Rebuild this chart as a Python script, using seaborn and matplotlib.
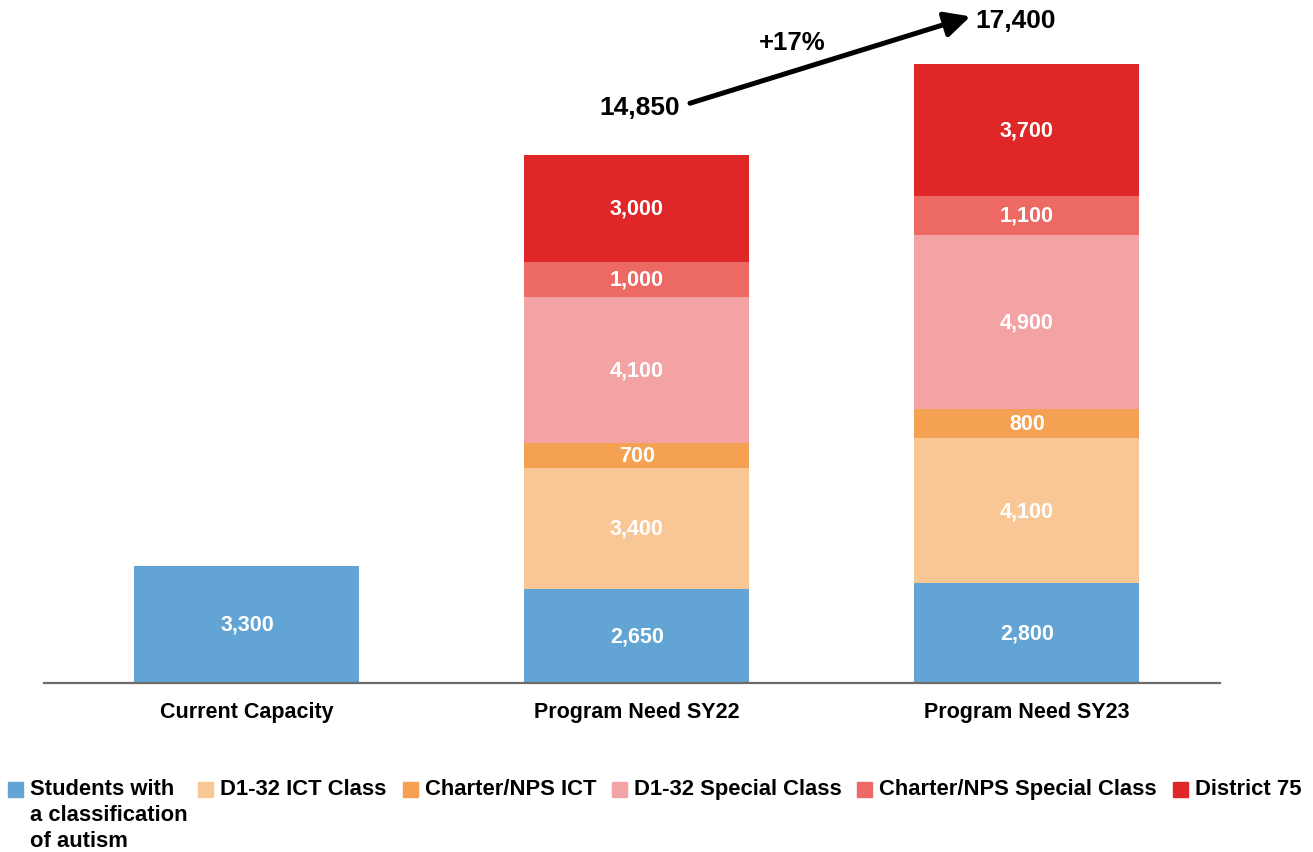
import matplotlib
matplotlib.use("Agg")
import numpy as np
import pandas as pd
import matplotlib.pyplot as plt
import seaborn as sns

# categories on the x axis
categories = ["Current Capacity", "Program Need SY22", "Program Need SY23"]

# stacked segments, bottom to top
segment_names = [
    "Students with\na classification\nof autism",
    "D1-32 ICT Class",
    "Charter/NPS ICT",
    "D1-32 Special Class",
    "Charter/NPS Special Class",
    "District 75",
]
autism = [3300, 2650, 2800]
d132_ict = [0, 3400, 4100]
charter_ict = [0, 700, 800]
d132_special = [0, 4100, 4900]
charter_special = [0, 1000, 1100]
district75 = [0, 3000, 3700]

totals = [3300, 14850, 17400]
growth_label = "+17%"

colors = ["#62A4D4", "#F9C795", "#F5A153", "#F4A3A5", "#ED6964", "#E02727"]

sns.set_theme(style="white")
plt.rcParams["font.family"] = ["Liberation Sans", "DejaVu Sans"]
plt.rcParams["text.color"] = "black"
plt.rcParams["xtick.color"] = "black"

fig = plt.figure(figsize=(13.13, 8.53), dpi=100)
ax = fig.add_axes([44 / 1313, 0.198, 1176 / 1313, 0.802])

series = [autism, d132_ict, charter_ict, d132_special, charter_special, district75]
bottom = np.zeros(len(categories))
bar_w = 225 / 390
for name, vals, col in zip(segment_names, series, colors):
    vals = np.array(vals, dtype=float)
    sns.barplot(x=categories, y=vals, bottom=bottom, color=col, width=bar_w,
                order=categories, ax=ax, linewidth=0, saturation=1)
    cont = ax.containers[-1]
    labels = [f"{v:,.0f}" if v > 0 else "" for v in vals]
    ax.bar_label(cont, labels=labels, label_type="center", color="white",
                 fontsize=15.5, fontweight="bold")
    bottom = bottom + vals

ax.set_xlim(-0.5205, 2.495)
ax.set_ylim(0, 19230)
ax.set_yticks([])
ax.set_xlabel("")
ax.set_ylabel("")
for s in ["top", "left", "right"]:
    ax.spines[s].set_visible(False)
ax.spines["bottom"].set_color("#6b6b6b")
ax.spines["bottom"].set_linewidth(1.6)
ax.tick_params(axis="x", length=0, pad=13)
for lbl in ax.get_xticklabels():
    lbl.set_fontsize(15.5)
    lbl.set_fontweight("bold")
    lbl.set_color("black")

# totals and growth arrow
ax.text(1.008, 16200, f"{totals[1]:,}", ha="center", va="center",
        fontsize=19, fontweight="bold", clip_on=False)
ax.text(1.97, 18640, f"{totals[2]:,}", ha="center", va="center",
        fontsize=19, fontweight="bold", clip_on=False)
ax.annotate("", xy=(1.855, 18740), xytext=(1.136, 16300),
            arrowprops=dict(arrowstyle="-|>,head_length=0.7,head_width=0.35",
                            color="black", lw=3.6, mutation_scale=22,
                            shrinkA=0, shrinkB=0),
            annotation_clip=False)
ax.text(1.397, 18020, growth_label, ha="center", va="center",
        fontsize=18.5, fontweight="bold", clip_on=False)

# legend drawn by hand so the wrapped first entry stays top aligned
handle_x = [8, 198, 403, 612, 857, 1173]
W, H = 1313, 853
for name, col, hx in zip(segment_names, colors, handle_x):
    fig.patches.append(plt.Rectangle((hx / W, 1 - 798 / H), 15 / W, 15 / H,
                                     transform=fig.transFigure, color=col))
    fig.text((hx + 22) / W, 1 - 779 / H, name, ha="left", va="top",
             fontsize=15.8, fontweight="bold", linespacing=1.3)

fig.savefig("out.png", dpi=100)
